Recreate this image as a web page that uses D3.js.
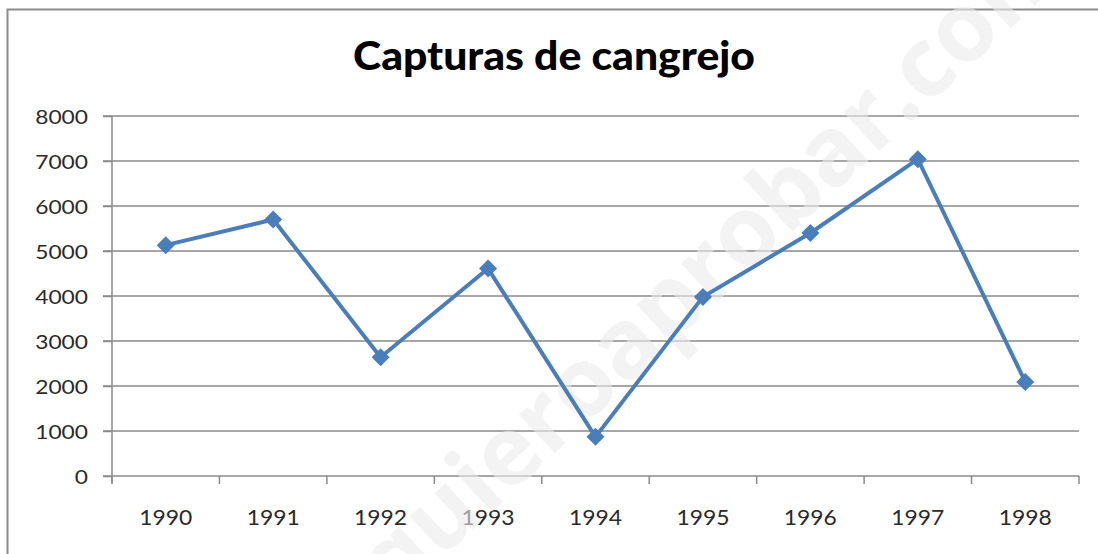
<!DOCTYPE html>
<html><head><meta charset="utf-8">
<script src="https://cdn.jsdelivr.net/npm/d3@7"></script>
<style>html,body{margin:0;padding:0;background:#fff;}svg{display:block;}</style>
</head><body>
<script>
const title = "Capturas de cangrejo";
const years = ["1990","1991","1992","1993","1994","1995","1996","1997","1998"];
const captures = [5130, 5700, 2640, 4610, 870, 3980, 5400, 7040, 2090];
const yTicks = [0,1000,2000,3000,4000,5000,6000,7000,8000];
const watermark = "quieroaprobar.com";

const W = 1098, H = 554;
const svg = d3.select("body").append("svg").attr("width", W).attr("height", H);

// frame
svg.append("rect").attr("x", 7.5).attr("y", 9.5).attr("width", W + 20).attr("height", H + 20)
  .attr("fill", "#fff").attr("stroke", "#8c8c8c").attr("stroke-width", 2);

const x = d3.scaleBand().domain(years).range([112, 1079]).padding(0);
const y = d3.scaleLinear().domain([0, 8000]).range([476, 116]);

// gridlines
svg.append("g").selectAll("line").data(yTicks.filter(d => d > 0)).join("line")
  .attr("x1", 103).attr("x2", 1079).attr("y1", d => y(d)).attr("y2", d => y(d))
  .attr("stroke", "#8a8a8a").attr("stroke-width", 1.5);

// y axis
const yAxis = svg.append("g").attr("transform", "translate(112,0)")
  .call(d3.axisLeft(y).tickValues(yTicks).tickSize(9).tickPadding(15).tickFormat(d3.format("d")));
yAxis.select(".domain").attr("stroke", "#8a8a8a").attr("stroke-width", 1.5).attr("d", "M0,116V483");
yAxis.selectAll(".tick line").attr("stroke", "#8a8a8a").attr("stroke-width", 1.5);
yAxis.selectAll(".tick text").attr("font-family", "Lato").attr("font-size", 19.5).attr("fill", "#2a2a2a")
  .attr("dy", "0.36em")
  .each(function(d){ const s = String(d); d3.select(this).attr("textLength", s.length * 13.2).attr("lengthAdjust", "spacingAndGlyphs"); });

// x axis
const xAxis = svg.append("g").attr("transform", "translate(0,476)");
xAxis.append("line").attr("x1", 103).attr("x2", 1079).attr("y1", 0).attr("y2", 0)
  .attr("stroke", "#8a8a8a").attr("stroke-width", 1.5);
const bounds = years.map(d => x(d)).concat([x.range()[1]]);
xAxis.selectAll("line.tk").data(bounds).join("line").attr("class", "tk")
  .attr("x1", d => d).attr("x2", d => d).attr("y1", 0).attr("y2", 8)
  .attr("stroke", "#8a8a8a").attr("stroke-width", 1.5);
xAxis.selectAll("text").data(years).join("text")
  .attr("x", d => x(d) + x.bandwidth() / 2).attr("y", 49)
  .attr("text-anchor", "middle").attr("font-family", "Lato").attr("font-size", 21).attr("fill", "#2a2a2a")
  .attr("textLength", 53).attr("lengthAdjust", "spacingAndGlyphs")
  .text(d => d);

// watermark (faint, under the series)
svg.append("text").attr("transform", "translate(735,285) rotate(-43)")
  .attr("text-anchor", "middle").attr("font-family", "Open Sans").attr("font-weight", "bold").attr("font-size", 96)
  .attr("fill", "#ececec").attr("opacity", 0.6)
  .text(watermark);

// line
const cx = d => x(d) + x.bandwidth() / 2;
const rows = years.map((yr, i) => ({yr, v: captures[i]}));
svg.append("path").datum(rows)
  .attr("fill", "none").attr("stroke", "#4a7ebb").attr("stroke-width", 4).attr("stroke-linejoin", "round")
  .attr("d", d3.line().x(d => cx(d.yr)).y(d => y(d.v)));
svg.append("g").selectAll("path").data(rows).join("path")
  .attr("transform", d => `translate(${cx(d.yr)},${y(d.v)})`)
  .attr("d", "M0,-9L9,0L0,9L-9,0Z")
  .attr("fill", "#4a7ebb");

// title
svg.append("text").attr("x", 554).attr("y", 70).attr("text-anchor", "middle")
  .attr("font-family", "Lato").attr("font-weight", "900").attr("font-size", 39).attr("fill", "#000")
  .attr("textLength", 402).attr("lengthAdjust", "spacingAndGlyphs")
  .text(title);
</script>
</body></html>
